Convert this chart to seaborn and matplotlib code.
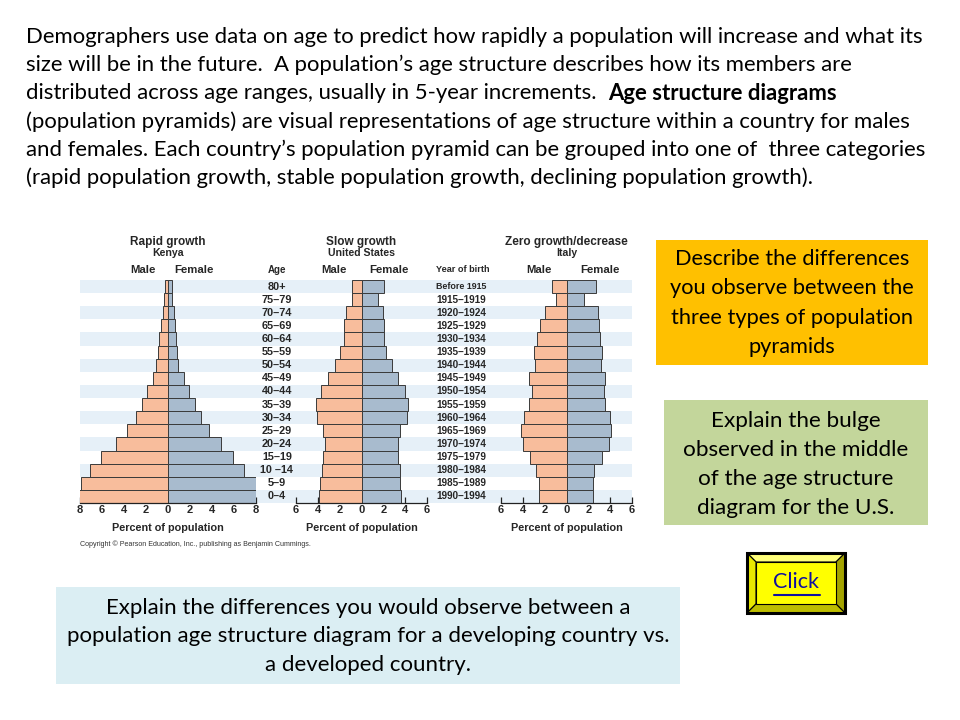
"""
Age structure diagrams slide - three population pyramids with question boxes
"""
import numpy as np
import pandas as pd
import seaborn as sns
import matplotlib.pyplot as plt
from matplotlib.patches import Rectangle, Polygon
from matplotlib.transforms import blended_transform_factory

sns.set_style("white")
plt.rcParams["font.family"] = ["Lato", "DejaVu Sans"]

#==============================================================================
# Data (percent of population, top row = oldest)
#==============================================================================
age_groups = ["80+", "75–79", "70–74", "65–69", "60–64", "55–59", "50–54",
              "45–49", "40–44", "35–39", "30–34", "25–29", "20–24", "15–19",
              "10 –14", "5–9", "0–4"]
birth_years = ["Before 1915", "1915–1919", "1920–1924", "1925–1929",
               "1930–1934", "1935–1939", "1940–1944", "1945–1949",
               "1950–1954", "1955–1959", "1960–1964", "1965–1969",
               "1970–1974", "1975–1979", "1980–1984", "1985–1989",
               "1990–1994"]

kenya_male = [0.25, 0.35, 0.5, 0.65, 0.8, 0.9, 1.05, 1.4, 1.9, 2.4, 2.95,
              3.75, 4.75, 6.1, 7.05, 7.95, 8.05]
kenya_female = [0.35, 0.4, 0.5, 0.6, 0.7, 0.8, 0.9, 1.45, 1.95, 2.45, 3.0,
                3.7, 4.8, 5.95, 6.95, 8.0, 8.0]

us_male = [0.85, 0.9, 1.4, 1.6, 1.6, 1.95, 2.45, 3.1, 3.7, 4.15, 4.1,
           3.55, 3.35, 3.5, 3.6, 3.8, 3.85]
us_female = [2.1, 1.55, 2.0, 2.1, 2.05, 2.2, 2.75, 3.35, 3.95, 4.3, 4.15,
             3.55, 3.3, 3.3, 3.5, 3.55, 3.65]

italy_male = [1.3, 0.95, 2.0, 2.4, 2.7, 2.95, 2.85, 3.45, 3.2, 3.45, 3.85,
              4.2, 4.0, 3.35, 2.75, 2.55, 2.55]
italy_female = [2.7, 1.6, 2.85, 2.95, 3.05, 3.25, 3.15, 3.5, 3.45, 3.55,
                4.0, 4.1, 3.9, 3.25, 2.55, 2.45, 2.45]

pyramid_titles = ["Rapid growth", "Slow growth", "Zero growth/decrease"]
pyramid_countries = ["Kenya", "United States", "Italy"]
x_limits = [8, 6, 6]

intro_lines = [
    "Demographers use data on age to predict how rapidly a population will increase and what its",
    "size will be in the future.  A population\u2019s age structure describes how its members are",
    "distributed across age ranges, usually in 5-year increments.  ",
    "(population pyramids) are visual representations of age structure within a country for males",
    "and females. Each country\u2019s population pyramid can be grouped into one of  three categories",
    "(rapid population growth, stable population growth, declining population growth).",
]
intro_bold = "Age structure diagrams"

orange_lines = ["Describe the differences", "you observe between the",
                "three types of population", "pyramids"]
green_lines = ["Explain the bulge", "observed in the middle",
               "of the age structure", "diagram for the U.S."]
blue_lines = ["Explain the differences you would observe between a",
              "population age structure diagram for a developing country vs.",
              "a developed country."]

MALE_COLOR = "#F8BD9C"
FEMALE_COLOR = "#A8BBCE"
STRIPE_COLOR = "#E6F0F8"

#==============================================================================
# Figure and full-page pixel axes
#==============================================================================
W, H = 960, 720
fig = plt.figure(figsize=(9.6, 7.2), dpi=100)
fig.patch.set_facecolor("white")
bg = fig.add_axes([0, 0, 1, 1], zorder=0)
bg.set_xlim(0, W)
bg.set_ylim(H, 0)
bg.axis("off")
renderer = fig.canvas.get_renderer()


def px_axes(x0, y0, x1, y1):
    # axes placed by pixel box (y from top)
    return fig.add_axes([x0 / W, 1 - y1 / H, (x1 - x0) / W, (y1 - y0) / H],
                        zorder=2)


def text_width(txt, size, **kw):
    t = bg.text(0, 0, txt, fontsize=size, **kw)
    w = t.get_window_extent(renderer).width
    t.remove()
    return w


def fit_size(txt, target, **kw):
    return 10 * target / text_width(txt, 10, **kw)


#==============================================================================
# Intro paragraph
#==============================================================================
para_size = fit_size(intro_lines[0], 899)
for i, line in enumerate(intro_lines):
    y = 37 + i * 28.2
    bg.text(26, y, line, fontsize=para_size, va="center", ha="left",
            color="black")
    if i == 2:
        w = text_width(line, para_size)
        bg.text(26 + w, y, intro_bold, fontsize=para_size, va="center",
                ha="left", fontweight="bold", color="black")

#==============================================================================
# Pyramids
#==============================================================================
top_y, bottom_y = 280, 503
row_h = (bottom_y - top_y) / len(age_groups)
for i in range(0, len(age_groups), 2):
    bg.add_patch(Rectangle((80, top_y + i * row_h), 552, row_h,
                           facecolor=STRIPE_COLOR, edgecolor="none"))

boxes = [(80, 256), (296, 427), (501, 632)]
data = [(kenya_male, kenya_female), (us_male, us_female),
        (italy_male, italy_female)]
helv = ["Liberation Sans", "DejaVu Sans"]

axes = []
for k, ((x0, x1), (male, female)) in enumerate(zip(boxes, data)):
    ax = px_axes(x0, top_y, x1, bottom_y)
    ax.patch.set_alpha(0)
    df = pd.DataFrame({"age": age_groups,
                       "male": -np.array(male),
                       "female": np.array(female)})
    sns.barplot(data=df, x="male", y="age", orient="h", color=MALE_COLOR,
                width=1.0, edgecolor="#3a3a3a", linewidth=0.7,
                saturation=1, ax=ax)
    sns.barplot(data=df, x="female", y="age", orient="h", color=FEMALE_COLOR,
                width=1.0, edgecolor="#3a3a3a", linewidth=0.7,
                saturation=1, ax=ax)
    lim = x_limits[k]
    ax.set_xlim(-lim, lim)
    ax.set_ylim(len(age_groups) - 0.5, -0.5)
    ticks = np.arange(-lim, lim + 1, 2)
    ax.set_xticks(ticks)
    ax.set_xticklabels([str(abs(t)) for t in ticks], family=helv,
                       fontweight="bold", fontsize=8)
    ax.set_yticks([])
    ax.set_xlabel("")
    ax.set_ylabel("")
    for side in ["top", "left", "right"]:
        ax.spines[side].set_visible(False)
    ax.spines["bottom"].set_color("#222222")
    ax.spines["bottom"].set_linewidth(0.9)
    ax.tick_params(axis="x", direction="in", length=4, width=0.9,
                   color="#222222", pad=1.5, bottom=True)
    ax.text(0.5, -0.11, "Percent of population", transform=ax.transAxes,
            ha="center", va="center", family=helv, fontweight="bold",
            fontsize=7.8)
    ax.text(0.5, 1.172, pyramid_titles[k], transform=ax.transAxes,
            ha="center", va="center", family=helv, fontweight="bold",
            fontsize=8.5)
    ax.text(0.5, 1.12, pyramid_countries[k], transform=ax.transAxes,
            ha="center", va="center", family=helv, fontweight="bold",
            fontsize=7.6)
    male_x = -2.3 if k == 0 else -2.5
    female_x = {0: 2.4, 1: 2.5, 2: 3.1}[k]
    ax.text(male_x, -1.3, "Male", ha="center", va="center",
            family=helv, fontweight="bold", fontsize=8.2)
    ax.text(female_x, -1.3, "Female", ha="center", va="center",
            family=helv, fontweight="bold", fontsize=8.2)
    axes.append(ax)

# age labels between Kenya and US, birth years between US and Italy
ax_us = axes[1]
tr = blended_transform_factory(bg.transData, ax_us.transData)
ax_us.text(277, -1.3, "Age", transform=tr, ha="center", va="center",
           family=helv, fontweight="bold", fontsize=7, clip_on=False)
for i, lab in enumerate(age_groups):
    ax_us.text(277, i, lab, transform=tr, ha="center", va="center",
               family=helv, fontweight="bold", fontsize=7.8, clip_on=False)
ax_us.text(436, -1.3, "Year of birth", transform=tr, ha="left", va="center",
           family=helv, fontweight="bold", fontsize=6.6, clip_on=False)
for i, lab in enumerate(birth_years):
    yl_size = 6.4 if i == 0 else 7.2
    ax_us.text(436, i, lab, transform=tr, ha="left", va="center",
               family=helv, fontweight="bold", fontsize=yl_size,
               clip_on=False)

cr = "Copyright \u00a9 Pearson Education, Inc., publishing as Benjamin Cummings."
bg.text(80, 544, cr, fontsize=fit_size(cr, 232, family=helv), family=helv,
        ha="left", va="center", color="#333333")

#==============================================================================
# Question boxes
#==============================================================================
def text_box(x0, y0, x1, y1, color, lines, first_y, step, target):
    bg.add_patch(Rectangle((x0, y0), x1 - x0, y1 - y0, facecolor=color,
                           edgecolor="none"))
    size = fit_size(lines[1], target)
    cx = (x0 + x1) / 2
    for i, line in enumerate(lines):
        bg.text(cx, first_y + i * step, line, fontsize=size, ha="center",
                va="center", color="black")


text_box(656, 240, 928, 365, "#FFC000", orange_lines, 259, 29.3, 244)
text_box(664, 400, 928, 525, "#C3D69B", green_lines, 421, 29, 226)
text_box(56, 587, 680, 684, "#DBEEF3", blue_lines, 608, 28.5, 601)

# Click button with bevel
bx0, by0, bx1, by1, b = 747, 553, 845, 613, 9
bg.add_patch(Polygon([(bx0, by0), (bx1, by0), (bx1 - b, by0 + b),
                      (bx0 + b, by0 + b)], facecolor="#FFFF7A",
                     edgecolor="black", linewidth=0.8))
bg.add_patch(Polygon([(bx0, by0), (bx0 + b, by0 + b), (bx0 + b, by1 - b),
                      (bx0, by1)], facecolor="#E8E800",
                     edgecolor="black", linewidth=0.8))
bg.add_patch(Polygon([(bx1, by0), (bx1, by1), (bx1 - b, by1 - b),
                      (bx1 - b, by0 + b)], facecolor="#A3A300",
                     edgecolor="black", linewidth=0.8))
bg.add_patch(Polygon([(bx0, by1), (bx0 + b, by1 - b), (bx1 - b, by1 - b),
                      (bx1, by1)], facecolor="#BDBD00",
                     edgecolor="black", linewidth=0.8))
bg.add_patch(Rectangle((bx0 + b, by0 + b), bx1 - bx0 - 2 * b,
                       by1 - by0 - 2 * b, facecolor="#FFFF00",
                       edgecolor="black", linewidth=0.8))
bg.add_patch(Rectangle((bx0, by0), bx1 - bx0, by1 - by0, facecolor="none",
                       edgecolor="black", linewidth=2.2))
click_size = fit_size("Click", 46)
bg.text((bx0 + bx1) / 2, 582, "Click", fontsize=click_size, ha="center",
        va="center", color="#1010A0")
bg.plot([774, 820], [595, 595], color="#1010A0", linewidth=1.5)

plt.savefig("out.png", dpi=100)
